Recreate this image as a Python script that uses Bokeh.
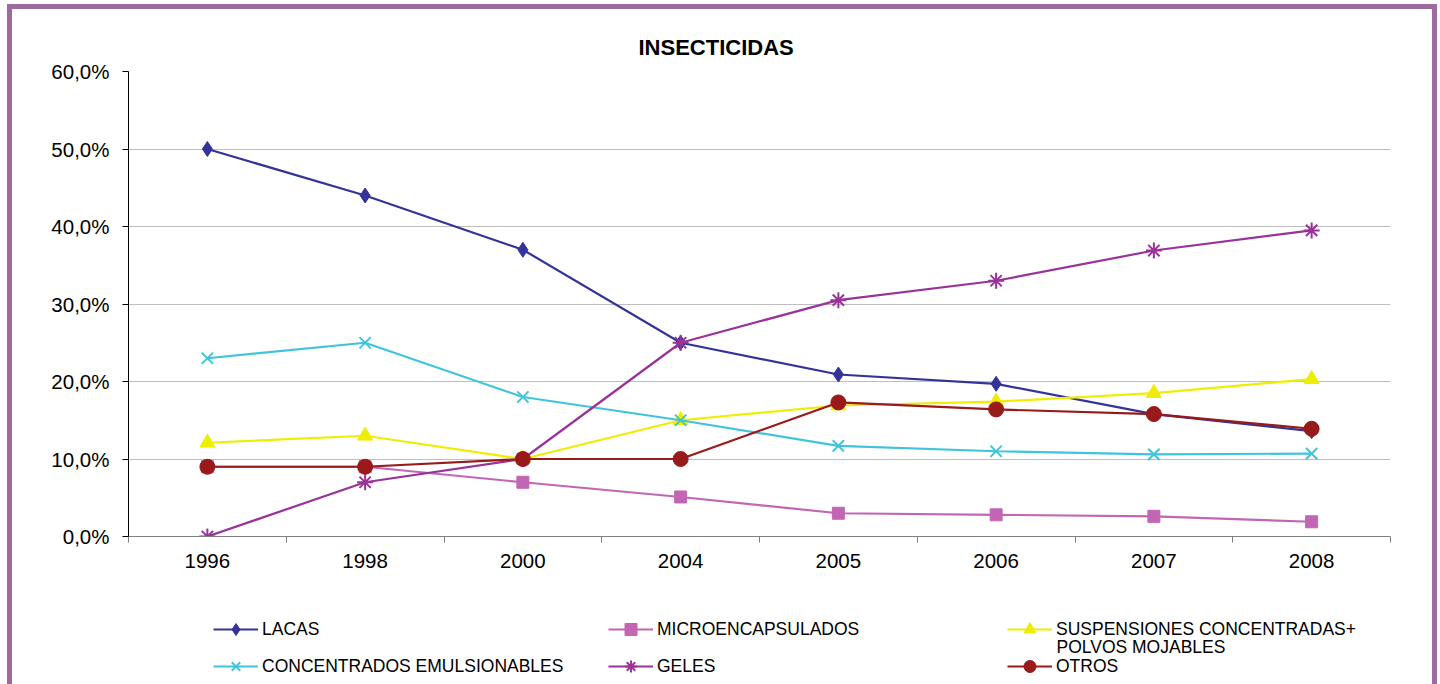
from bokeh.plotting import figure
from bokeh.layouts import column
from bokeh.models import Range1d, FixedTicker, CustomJSTickFormatter, Legend, LegendItem, Label, Title
from bokeh.embed import file_html
from bokeh.resources import INLINE

# ---- data ----
years = ["1996", "1998", "2000", "2004", "2005", "2006", "2007", "2008"]
lacas = [50.0, 44.0, 37.0, 25.0, 20.9, 19.7, 15.8, 13.6]
microencapsulados = [9.0, 9.0, 7.0, 5.1, 3.0, 2.8, 2.6, 1.9]
suspensiones = [12.1, 13.0, 10.0, 15.0, 16.9, 17.4, 18.5, 20.3]
concentrados = [23.0, 25.0, 18.0, 15.0, 11.7, 11.0, 10.6, 10.7]
geles = [0.0, 7.0, 10.0, 25.0, 30.5, 33.0, 36.9, 39.5]
otros = [9.0, 9.0, 10.0, 10.0, 17.3, 16.4, 15.8, 13.9]
y_ticks = [0, 10, 20, 30, 40, 50, 60]

title_text = "INSECTICIDAS"
FONT = "Liberation Sans"
FRAME = "#9E6B9E"
ML, MR = 121, 47

xs = [i + 0.5 for i in range(len(years))]

# ---- main chart ----
p = figure(width=1430, height=596,
           x_range=Range1d(0, len(years)), y_range=Range1d(0, 60),
           output_backend="svg", toolbar_location=None,
           min_border_left=ML, min_border_right=MR,
           min_border_top=67, min_border_bottom=64)
p.styles = {"box-shadow": f"inset 5px 5px 0 0 {FRAME}, inset -5px 0 0 0 {FRAME}"}
p.outline_line_color = None
p.background_fill_color = "white"
p.border_fill_color = None

p.add_layout(Title(text=title_text, align="left", offset=510, standoff=23,
                   text_font=FONT, text_font_size="22px", text_font_style="bold",
                   text_color="black"), "above")

xa = p.xaxis[0]
xa.ticker = FixedTicker(ticks=xs, minor_ticks=list(range(len(years) + 1)))
xa.formatter = CustomJSTickFormatter(args=dict(years=years),
                                     code="return years[Math.floor(tick)];")
xa.major_tick_out = 0
xa.major_tick_in = 0
xa.minor_tick_out = 6
xa.minor_tick_in = 0
xa.axis_line_color = "#808080"
xa.minor_tick_line_color = "#808080"
xa.major_label_text_font = FONT
xa.major_label_text_font_size = "20.5px"
xa.major_label_text_color = "black"
xa.major_label_standoff = 11

ya = p.yaxis[0]
ya.ticker = FixedTicker(ticks=y_ticks)
ya.formatter = CustomJSTickFormatter(code="return tick.toFixed(1).replace('.', ',') + '%';")
ya.major_tick_out = 6
ya.major_tick_in = 0
ya.minor_tick_line_color = None
ya.axis_line_color = "black"
ya.major_tick_line_color = "black"
ya.major_label_text_font = FONT
ya.major_label_text_font_size = "20.5px"
ya.major_label_text_color = "black"
ya.major_label_standoff = 13

p.xgrid.visible = False
p.ygrid.ticker = FixedTicker(ticks=y_ticks)
p.ygrid.grid_line_color = "#BEBEBE"
p.ygrid.grid_line_width = 1

series = [
    ("LACAS", lacas, "#333399", "diamond", 15, 1),
    ("MICROENCAPSULADOS", microencapsulados, "#C266B4", "square", 12, 1),
    ("SUSPENSIONES CONCENTRADAS+", suspensiones, "#EEEE00", "triangle", 15, 1),
    ("CONCENTRADOS EMULSIONABLES", concentrados, "#40C4DC", "x", 16, 2),
    ("GELES", geles, "#993399", "asterisk", 16, 2),
    ("OTROS", otros, "#991A1A", "circle", 15, 1),
]

for name, data, color, marker, size, lw in series:
    p.line(x=xs, y=data, line_color=color, line_width=2.2)
    p.scatter(x=xs, y=data, marker=marker, size=size,
              fill_color=color, line_color=color, line_width=lw)

# ---- legend strip ----
lg = figure(width=1430, height=84, x_range=Range1d(0, 1), y_range=Range1d(0, 1),
            output_backend="svg", toolbar_location=None,
            x_axis_type=None, y_axis_type=None,
            min_border_left=ML, min_border_right=MR, min_border_top=0, min_border_bottom=0)
lg.styles = {"box-shadow": f"inset 5px 0 0 0 {FRAME}, inset -5px 0 0 0 {FRAME}"}
lg.outline_line_color = None
lg.background_fill_color = None
lg.border_fill_color = None
lg.grid.visible = False

items = {}
for name, data, color, marker, size, lw in series:
    # off-range placeholder renderers: only their legend glyphs are shown
    lr = lg.line(x=[-5, -4], y=[-5, -4], line_color=color, line_width=2.2)
    sr = lg.scatter(x=[-5], y=[-5], marker=marker, size=size,
                    fill_color=color, line_color=color, line_width=lw)
    items[name] = LegendItem(label=name, renderers=[lr, sr])

columns_spec = [
    (85, ["LACAS", "CONCENTRADOS EMULSIONABLES"]),
    (480, ["MICROENCAPSULADOS", "GELES"]),
    (879, ["SUSPENSIONES CONCENTRADAS+", "OTROS"]),
]
for xloc, names in columns_spec:
    leg = Legend(items=[items[n] for n in names], location=(xloc, 3),
                 orientation="vertical", padding=0, margin=0, spacing=7,
                 glyph_width=45, glyph_height=30, label_height=30,
                 label_standoff=4, border_line_color=None,
                 background_fill_alpha=0,
                 label_text_font=FONT, label_text_font_size="17.5px",
                 label_text_color="black")
    lg.add_layout(leg, "center")

lg.add_layout(Label(x=928, y=37.3, x_units="screen", y_units="screen",
                    text="POLVOS MOJABLES", text_align="left", text_baseline="middle",
                    text_font=FONT, text_font_size="17.5px", text_color="black"))

layout = column(p, lg, spacing=0)
layout.styles = {"margin-left": "7px", "margin-top": "4px"}

open("out.html", "w").write(file_html(layout, INLINE))
